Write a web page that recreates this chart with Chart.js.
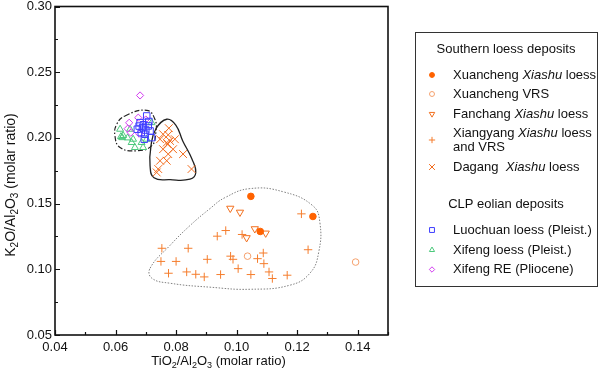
<!DOCTYPE html>
<html>
<head>
<meta charset="utf-8">
<title>K2O/Al2O3 vs TiO2/Al2O3</title>
<script src="https://cdn.jsdelivr.net/npm/chart.js@4.4.1/dist/chart.umd.min.js"></script>
<style>
  html, body { margin: 0; padding: 0; background: #fff; }
</style>
</head>
<body>
<canvas id="chart" width="600" height="370"></canvas>
<script>
// Points are [TiO2/Al2O3, K2O/Al2O3] molar ratios

// Southern loess deposits
const xuanchengLoess = [[0.1047, 0.1555], [0.1252, 0.1402], [0.1078, 0.1288]];
const xuanchengVRS = [[0.1036, 0.1100], [0.1393, 0.1055]];
const fanchangLoess = [[0.0979, 0.1464], [0.1011, 0.1434], [0.1060, 0.1308], [0.1033, 0.1240], [0.1096, 0.1275]];
const xiangyang = [
  [0.0753, 0.1160], [0.0750, 0.1060], [0.0775, 0.0970], [0.0800, 0.1060], [0.0840, 0.1160],
  [0.0835, 0.0980], [0.0865, 0.0962], [0.0893, 0.0942], [0.0903, 0.1076], [0.0936, 0.1252],
  [0.0964, 0.1295], [0.0947, 0.0960], [0.0980, 0.1100], [0.0988, 0.1076], [0.1005, 0.1005],
  [0.1018, 0.1265], [0.1047, 0.0960], [0.1069, 0.1081], [0.1088, 0.1124], [0.1090, 0.1043],
  [0.1107, 0.0980], [0.1118, 0.0930], [0.1167, 0.0955], [0.1214, 0.1422], [0.1236, 0.1149]
];
const dagang = [
  [0.0776, 0.2074], [0.0774, 0.2023], [0.0769, 0.1964], [0.0772, 0.1952], [0.0780, 0.1977],
  [0.0747, 0.1990], [0.0757, 0.1914], [0.0790, 0.1914], [0.0774, 0.1877], [0.0823, 0.1877],
  [0.0747, 0.1826], [0.0769, 0.1826], [0.0741, 0.1763], [0.0736, 0.1737], [0.0851, 0.1763],
  [0.0796, 0.1990], [0.0757, 0.2028]
];

// CLP eolian deposits
const luochuan = [
  [0.0703, 0.2167], [0.0681, 0.2116], [0.0689, 0.2078], [0.0714, 0.2053], [0.0697, 0.2028],
  [0.0708, 0.2091], [0.0672, 0.2066], [0.0719, 0.2002], [0.0692, 0.2100], [0.0700, 0.2060],
  [0.0685, 0.2040], [0.0710, 0.2125], [0.0678, 0.2090], [0.0695, 0.1990]
];
const xifengLoess = [
  [0.0615, 0.2066], [0.0622, 0.2002], [0.0618, 0.2010], [0.0625, 0.2018], [0.0658, 0.1990],
  [0.0653, 0.1965], [0.0686, 0.1965], [0.0664, 0.1927], [0.0691, 0.1927], [0.0719, 0.2116],
  [0.0648, 0.2066], [0.0703, 0.1990], [0.0640, 0.2000]
];
const xifengRE = [[0.0681, 0.2323], [0.0645, 0.2115], [0.0675, 0.2154], [0.0700, 0.2140], [0.0650, 0.2040], [0.0678, 0.2032], [0.0640, 0.2070]];

// field outlines (closed curves, data units)
const clpField = [[0.0631, 0.2167], [0.0703, 0.2210], [0.0730, 0.2142], [0.0733, 0.2040], [0.0719, 0.1939], [0.0670, 0.1902], [0.0615, 0.1927], [0.0598, 0.2015], [0.0604, 0.2104]];
const dagangField = [[0.0769, 0.2142], [0.0799, 0.2098], [0.0822, 0.1977], [0.0852, 0.1841], [0.0865, 0.1735], [0.0846, 0.1686], [0.0780, 0.1682], [0.0727, 0.1697], [0.0714, 0.1788], [0.0717, 0.1939], [0.0733, 0.2068]];
const southField = [
  [0.0714, 0.1008], [0.0780, 0.1182], [0.0846, 0.1333], [0.0912, 0.1462], [0.0961, 0.1545], [0.1044, 0.1614],
  [0.1152, 0.1591], [0.1251, 0.1485], [0.1275, 0.1356], [0.1271, 0.1129], [0.1242, 0.0970], [0.1176, 0.0879],
  [0.1044, 0.0848], [0.0912, 0.0864], [0.0780, 0.0894], [0.0720, 0.0932]
];

// axes
const xTicks = [0.04, 0.06, 0.08, 0.10, 0.12, 0.14];
const xMinorTicks = [0.05, 0.07, 0.09, 0.11, 0.13, 0.15];
const yTicks = [0.05, 0.10, 0.15, 0.20, 0.25, 0.30];
const yMinorTicks = [0.075, 0.125, 0.175, 0.225, 0.275];

const FONT = "'Liberation Sans', Arial, sans-serif";

function pts(arr) {
  return arr.map(p => ({ x: p[0], y: p[1] }));
}

function series(label, arr, style, color, radius, fillColor, extra) {
  return Object.assign({
    label: label,
    data: pts(arr),
    pointStyle: style,
    pointRadius: radius,
    pointBorderColor: color,
    pointBackgroundColor: fillColor || 'rgba(0,0,0,0)',
    pointBorderWidth: 1,
    showLine: false
  }, extra || {});
}

// closed smooth curve: wrap the ends so the spline is continuous, hide the extra segments
function outline(arr, color, dash, width) {
  const n = arr.length;
  const loop = [arr[n - 1]].concat(arr, [arr[0], arr[1]]);
  return {
    type: 'line',
    label: '',
    data: pts(loop),
    showLine: true,
    pointRadius: 0,
    borderColor: color,
    borderWidth: width,
    borderDash: dash,
    tension: 0.45,
    fill: false,
    segment: {
      borderColor: c => (c.p0DataIndex === 0 || c.p1DataIndex === loop.length - 1) ? 'rgba(0,0,0,0)' : color
    }
  };
}

const datasets = [
  series('Luochuan loess (Pleist.)', luochuan, 'rect', '#3d3dff', 4.6),
  series('Xifeng RE (Pliocene)', xifengRE, 'rectRot', '#d23cf0', 3.6),
  series('Xifeng loess (Pleist.)', xifengLoess, 'triangle', '#4cc97c', 4),
  series('Xuancheng *Xiashu* loess', xuanchengLoess, 'circle', '#ff6200', 3.3, '#ff6200'),
  series('Xuancheng VRS', xuanchengVRS, 'circle', '#f5a06c', 3.3),
  series('Fanchang *Xiashu* loess', fanchangLoess, 'triangle', '#f2701f', 4.2, null, { pointRotation: 180 }),
  series('Xiangyang *Xiashu* loess\nand VRS', xiangyang, 'cross', '#f57d2d', 4.2),
  series('Dagang  *Xiashu* loess', dagang, 'crossRot', '#f26c1e', 5.5),
  outline(clpField, '#222', [5, 2, 1.5, 2], 1.2),
  outline(dagangField, '#222', [], 1.3),
  outline(southField, '#808080', [1.5, 1.5], 1)
];

// legend rows: heading text or dataset index, with the row's vertical centre
const legendRows = [
  { head: 'Southern loess deposits', y: 49 },
  { ds: 3, y: 75 },
  { ds: 4, y: 94 },
  { ds: 5, y: 114 },
  { ds: 6, y: 140 },
  { ds: 7, y: 167 },
  { head: 'CLP eolian deposits', y: 204 },
  { ds: 0, y: 230 },
  { ds: 2, y: 250 },
  { ds: 1, y: 269.5 }
];

// text with *italic* parts
function drawItalicText(ctx, text, x, y, size) {
  const parts = text.split('*');
  let cx = x;
  parts.forEach((part, i) => {
    ctx.font = (i % 2 ? 'italic ' : '') + size + 'px ' + FONT;
    ctx.fillText(part, cx, y);
    cx += ctx.measureText(part).width;
  });
}

// text with _x subscripts, centred on x
function drawSubText(ctx, text, x, y, size) {
  const parts = [];
  for (let i = 0; i < text.length; i++) {
    if (text[i] === '_') {
      parts.push([text[i + 1], true]);
      i++;
    } else if (parts.length && !parts[parts.length - 1][1]) {
      parts[parts.length - 1][0] += text[i];
    } else {
      parts.push([text[i], false]);
    }
  }
  const subSize = Math.round(size * 0.7);
  let total = 0;
  parts.forEach(p => {
    ctx.font = (p[1] ? subSize : size) + 'px ' + FONT;
    p.push(ctx.measureText(p[0]).width);
    total += p[2];
  });
  let cx = x - total / 2;
  ctx.textAlign = 'left';
  ctx.textBaseline = 'alphabetic';
  parts.forEach(p => {
    ctx.font = (p[1] ? subSize : size) + 'px ' + FONT;
    ctx.fillText(p[0], cx, y + (p[1] ? 3 : 0));
    cx += p[2];
  });
}

const framePlugin = {
  id: 'frame',
  afterDatasetsDraw(chart) {
    const ctx = chart.ctx;
    const a = chart.chartArea;
    const xs = chart.scales.x, ys = chart.scales.y;
    ctx.save();
    ctx.strokeStyle = '#111';
    ctx.lineWidth = 1.6;
    ctx.strokeRect(a.left, a.top, a.right - a.left, a.bottom - a.top);
    ctx.lineWidth = 1.2;
    ctx.beginPath();
    xTicks.concat(xMinorTicks).forEach(v => {
      const len = xTicks.includes(v) ? 5 : 3;
      const px = Math.round(xs.getPixelForValue(v)) + 0.5;
      ctx.moveTo(px, a.bottom);
      ctx.lineTo(px, a.bottom - len);
    });
    yTicks.concat(yMinorTicks).forEach(v => {
      const len = yTicks.includes(v) ? 5 : 3;
      const py = Math.round(ys.getPixelForValue(v)) + 0.5;
      ctx.moveTo(a.left, py);
      ctx.lineTo(a.left + len, py);
    });
    ctx.stroke();
    ctx.restore();
  },
  afterDraw(chart) {
    const ctx = chart.ctx;
    const a = chart.chartArea;
    ctx.save();
    ctx.fillStyle = '#111';
    // axis titles
    drawSubText(ctx, 'TiO_2/Al_2O_3 (molar ratio)', (a.left + a.right) / 2 - 3, 365, 13);
    ctx.save();
    ctx.translate(15, 185);
    ctx.rotate(-Math.PI / 2);
    drawSubText(ctx, 'K_2O/Al_2O_3 (molar ratio)', 0, 0, 14);
    ctx.restore();

    // legend box
    ctx.strokeStyle = '#333';
    ctx.lineWidth = 1;
    ctx.strokeRect(415.5, 32.5, 182, 254);
    ctx.textBaseline = 'middle';
    legendRows.forEach(row => {
      if (row.head) {
        ctx.font = '13px ' + FONT;
        ctx.textAlign = 'center';
        ctx.fillStyle = '#111';
        ctx.fillText(row.head, 506, row.y);
        return;
      }
      const ds = chart.data.datasets[row.ds];
      ctx.fillStyle = ds.pointBackgroundColor;
      ctx.strokeStyle = ds.pointBorderColor;
      ctx.lineWidth = 1;
      Chart.helpers.drawPoint(ctx, {
        pointStyle: ds.pointStyle,
        radius: ds.pointRadius * 0.75,
        rotation: ds.pointRotation || 0,
        borderWidth: 1
      }, 432, row.y);
      ctx.fillStyle = '#111';
      ctx.textAlign = 'left';
      const lines = ds.label.split('\n');
      lines.forEach((line, i) => {
        const ly = row.y + (i - (lines.length - 1) / 2) * 14;
        drawItalicText(ctx, line, 453, ly, 13);
      });
    });
    ctx.restore();
  }
};

const tickFont = { family: FONT, size: 13 };

new Chart(document.getElementById('chart'), {
  type: 'scatter',
  data: { datasets: datasets },
  options: {
    responsive: false,
    animation: false,
    devicePixelRatio: 1,
    layout: { padding: { top: 5, right: 212, left: 0, bottom: 0 } },
    plugins: {
      legend: { display: false },
      tooltip: { enabled: false }
    },
    scales: {
      x: {
        type: 'linear',
        min: 0.04,
        max: 0.15,
        afterBuildTicks: s => { s.ticks = xTicks.map(v => ({ value: v })); },
        ticks: { callback: v => v.toFixed(2), font: tickFont, color: '#111', padding: 5, autoSkip: false, maxRotation: 0 },
        grid: { display: false, drawTicks: false },
        border: { display: false },
        afterFit: s => { s.height = 35; s.paddingLeft = 0; s.paddingRight = 0; }
      },
      y: {
        type: 'linear',
        min: 0.05,
        max: 0.30,
        afterBuildTicks: s => { s.ticks = yTicks.map(v => ({ value: v })); },
        ticks: { callback: v => v.toFixed(2), font: tickFont, color: '#111', padding: 3, autoSkip: false },
        grid: { display: false, drawTicks: false },
        border: { display: false },
        afterFit: s => { s.width = 55; s.paddingTop = 0; s.paddingBottom = 0; }
      }
    }
  },
  plugins: [framePlugin]
});
</script>
</body>
</html>
